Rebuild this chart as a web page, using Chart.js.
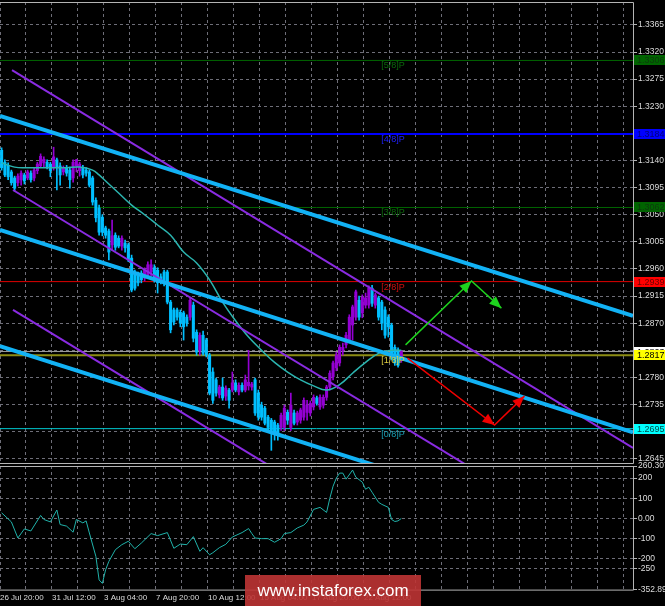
<!DOCTYPE html>
<html>
<head>
<meta charset="utf-8">
<script src="https://cdn.jsdelivr.net/npm/chart.js@4.4.0/dist/chart.umd.min.js"></script>
<style>
  html, body { margin: 0; padding: 0; background: #000; }
  #wrap { position: relative; width: 665px; height: 606px; overflow: hidden; background: #000; }
  #main { position: absolute; left: 0; top: 0; }
  #cci { position: absolute; left: 0; top: 456px; }
  #mark {
    position: absolute; left: 245px; top: 575px; width: 176px; height: 31px;
    background: rgba(190, 52, 52, 0.9); color: #fff; text-align: center;
    font: 17px 'Liberation Sans', Arial, sans-serif; line-height: 31px;
  }
</style>
</head>
<body>
<div id="wrap">
  <canvas id="main" width="665" height="464"></canvas>
  <canvas id="cci" width="665" height="150"></canvas>
  <div id="mark">www.instaforex.com</div>
</div>
<script>
// H4 bars, index 0 = 26 Jul 20:00
const timeLabels = ['26 Jul 20:00', '31 Jul 12:00', '3 Aug 04:00', '7 Aug 20:00',
                    '10 Aug 12:00', '15 Aug 04:00', '17 Aug 20:00', '22 Aug 12:00'];

const openPrices = [
  1.3157, 1.3137, 1.3132, 1.3121, 1.3111, 1.3103, 1.3108, 1.3116, 1.3111, 1.3119,
  1.3111, 1.3123, 1.3131, 1.3136, 1.3137, 1.3134, 1.3128, 1.3141, 1.3131, 1.3121,
  1.3128, 1.3124, 1.3111, 1.3131, 1.3123, 1.3128, 1.3124, 1.3121, 1.3111, 1.3074,
  1.3061, 1.3046, 1.3028, 1.3023, 1.3000, 1.3016, 1.3011, 1.2998, 1.3003, 1.3000,
  1.2978, 1.2953, 1.2950, 1.2953, 1.2945, 1.2948, 1.2955, 1.2962, 1.2958, 1.2947,
  1.2955, 1.2955, 1.2905, 1.2892, 1.2892, 1.2888, 1.2887, 1.2880, 1.2880, 1.2900,
  1.2855, 1.2825, 1.2850, 1.2842, 1.2817, 1.2789, 1.2776, 1.2751, 1.2764, 1.2749,
  1.2759, 1.2759, 1.2771, 1.2756, 1.2767, 1.2759, 1.2766, 1.2764, 1.2776, 1.2754,
  1.2734, 1.2729, 1.2714, 1.2709, 1.2706, 1.2701, 1.2697, 1.2697, 1.2722, 1.2697,
  1.2721, 1.2706, 1.2709, 1.2714, 1.2722, 1.2721, 1.2731, 1.2746, 1.2731, 1.2734,
  1.2747, 1.2764, 1.2781, 1.2796, 1.2804, 1.2825, 1.2834, 1.2842, 1.2867, 1.2880,
  1.2908, 1.2887, 1.2900, 1.2900, 1.2928, 1.2900, 1.2912, 1.2905, 1.2892, 1.2880,
  1.2867, 1.2830, 1.2825, 1.2809
];
const highPrices = [
  1.3161, 1.3141, 1.3136, 1.3124, 1.3114, 1.3118, 1.3123, 1.3119, 1.3124, 1.3123,
  1.3128, 1.3137, 1.3151, 1.3146, 1.3141, 1.3137, 1.3162, 1.3144, 1.3136, 1.3131,
  1.3132, 1.3129, 1.3141, 1.3142, 1.3137, 1.3132, 1.3128, 1.3124, 1.3114, 1.3078,
  1.3066, 1.3050, 1.3031, 1.3026, 1.3041, 1.3020, 1.3015, 1.3015, 1.3008, 1.3003,
  1.2983, 1.2958, 1.2955, 1.2957, 1.2962, 1.2972, 1.2975, 1.2967, 1.2962, 1.2952,
  1.2958, 1.2958, 1.2908, 1.2895, 1.2895, 1.2892, 1.2890, 1.2884, 1.2912, 1.2905,
  1.2859, 1.2854, 1.2857, 1.2845, 1.2820, 1.2796, 1.2779, 1.2767, 1.2779, 1.2766,
  1.2762, 1.2789, 1.2776, 1.2771, 1.2771, 1.2784, 1.2825, 1.2772, 1.2779, 1.2759,
  1.2739, 1.2732, 1.2717, 1.2712, 1.2709, 1.2704, 1.2721, 1.2734, 1.2726, 1.2754,
  1.2726, 1.2724, 1.2729, 1.2746, 1.2742, 1.2741, 1.2751, 1.2749, 1.2751, 1.2751,
  1.2767, 1.2791, 1.2807, 1.2822, 1.2834, 1.2837, 1.2855, 1.2884, 1.2900, 1.2925,
  1.2915, 1.2917, 1.2920, 1.2932, 1.2933, 1.2920, 1.2915, 1.2908, 1.2897, 1.2884,
  1.2870, 1.2834, 1.2829, 1.2825
];
const lowPrices = [
  1.3124, 1.3113, 1.3108, 1.3099, 1.3089, 1.3098, 1.3099, 1.3101, 1.3108, 1.3104,
  1.3106, 1.3118, 1.3128, 1.3129, 1.3126, 1.3113, 1.3124, 1.3091, 1.3099, 1.3116,
  1.3114, 1.3094, 1.3104, 1.3121, 1.3114, 1.3111, 1.3114, 1.3096, 1.3066, 1.3038,
  1.3016, 1.3015, 1.3011, 1.2975, 1.2991, 1.2991, 1.2995, 1.2991, 1.2988, 1.2972,
  1.2922, 1.2925, 1.2932, 1.2937, 1.2940, 1.2945, 1.2948, 1.2938, 1.2920, 1.2935,
  1.2932, 1.2902, 1.2854, 1.2867, 1.2875, 1.2864, 1.2842, 1.2865, 1.2875, 1.2839,
  1.2817, 1.2817, 1.2817, 1.2814, 1.2751, 1.2737, 1.2749, 1.2746, 1.2742, 1.2742,
  1.2729, 1.2756, 1.2756, 1.2751, 1.2756, 1.2756, 1.2759, 1.2759, 1.2717, 1.2709,
  1.2709, 1.2701, 1.2692, 1.2659, 1.2676, 1.2676, 1.2692, 1.2692, 1.2702, 1.2692,
  1.2701, 1.2701, 1.2704, 1.2709, 1.2709, 1.2716, 1.2726, 1.2734, 1.2727, 1.2729,
  1.2742, 1.2759, 1.2776, 1.2791, 1.2799, 1.2817, 1.2829, 1.2839, 1.2842, 1.2875,
  1.2875, 1.2879, 1.2895, 1.2895, 1.2898, 1.2895, 1.2875, 1.2859, 1.2845, 1.2847,
  1.2809, 1.2800, 1.2797, 1.2805
];
const closePrices = [
  1.3128, 1.3116, 1.3113, 1.3103, 1.3094, 1.3114, 1.3119, 1.3106, 1.3121, 1.3108,
  1.3124, 1.3134, 1.3147, 1.3142, 1.3129, 1.3123, 1.3146, 1.3128, 1.3116, 1.3128,
  1.3119, 1.3108, 1.3137, 1.3141, 1.3134, 1.3116, 1.3119, 1.3099, 1.3071, 1.3045,
  1.3021, 1.3021, 1.3016, 1.2988, 1.3015, 1.2996, 1.2998, 1.3011, 1.2995, 1.2975,
  1.2925, 1.2928, 1.2937, 1.2942, 1.2958, 1.2967, 1.2967, 1.2942, 1.2937, 1.2938,
  1.2937, 1.2905, 1.2859, 1.2872, 1.2880, 1.2870, 1.2864, 1.2870, 1.2908, 1.2845,
  1.2822, 1.2850, 1.2820, 1.2817, 1.2754, 1.2742, 1.2754, 1.2764, 1.2746, 1.2762,
  1.2742, 1.2771, 1.2759, 1.2767, 1.2759, 1.2776, 1.2772, 1.2769, 1.2721, 1.2714,
  1.2714, 1.2704, 1.2697, 1.2692, 1.2689, 1.2687, 1.2717, 1.2729, 1.2709, 1.2734,
  1.2704, 1.2721, 1.2726, 1.2742, 1.2734, 1.2737, 1.2747, 1.2737, 1.2747, 1.2747,
  1.2764, 1.2787, 1.2804, 1.2817, 1.2830, 1.2830, 1.2850, 1.2880, 1.2897, 1.2922,
  1.2880, 1.2913, 1.2912, 1.2928, 1.2903, 1.2917, 1.2880, 1.2870, 1.2850, 1.2864,
  1.2814, 1.2804, 1.2800, 1.2823
];

// moving average, read every few bars
const maBars   = [0, 4, 8, 12, 16, 20, 24, 28, 30, 32, 36, 40, 44, 48, 52, 56, 60,
                  64, 68, 72, 76, 80, 84, 88, 92, 96, 100, 104, 108, 112, 116, 120, 123];
const maValues = [1.3136, 1.3129, 1.3128, 1.3128, 1.3128, 1.3128, 1.3129, 1.3124, 1.3116,
                  1.3106, 1.3086, 1.3066, 1.3050, 1.3033, 1.3016, 1.2988, 1.2970, 1.2942,
                  1.2905, 1.2874, 1.2847, 1.2825, 1.2805, 1.2789, 1.2776, 1.2766, 1.2759,
                  1.2768, 1.2787, 1.2805, 1.2820, 1.2825, 1.2825];

// CCI sub-window
const cciBars = [0, 3, 5, 7, 9, 12, 13, 15, 17, 18, 20, 22, 23, 25, 26, 27, 29, 30, 31, 32,
                 33, 35, 37, 39, 41, 43, 46, 48, 51, 53, 55, 57, 59, 61, 62, 64, 65, 67, 69, 71,
                 74, 76, 77, 78, 80, 82, 84, 86, 87, 89, 91, 93, 94, 96, 98, 100, 101, 102, 103, 104,
                 105, 106, 108, 109, 111, 112, 113, 114, 116, 117, 119, 120, 121, 122, 123];
const cciValues = [28, -17, -97, -52, -62, 15, -5, -17, 42, -30, -38, -68, -5, -22, -12, -72, -188, -305, -322, -255,
                   -213, -155, -130, -113, -150, -122, -75, -85, -70, -148, -127, -130, -90, -163, -145, -180, -170, -145, -128, -92,
                   -70, -50, -75, -97, -100, -100, -118, -100, -75, -70, -47, -33, -17, 45, 55, 30, 100, 160, 200, 225,
                   225, 195, 240, 205, 180, 145, 155, 130, 80, 70, 55, -5, -15, -12, 0];

const priceRange = [1.2638, 1.3403];
const priceTicks = [1.2645, 1.2690, 1.2735, 1.2780, 1.2825, 1.2870, 1.2915, 1.2960, 1.3005,
                    1.3050, 1.3095, 1.3140, 1.3185, 1.3230, 1.3275, 1.3320, 1.3365];
const cciTicks = [-352.89, -250, -200, -100, 0, 100, 200, 260.3071];
const cciTickText = ['-352.890', '-250', '-200', '-100', '0.00', '100', '200', '260.3071'];

const murreyLevels = [1.3306, 1.3184, 1.3062, 1.2939, 1.2817, 1.2695];
const murreyNames = ['[5/8]P', '[4/8]P', '[3/8]P', '[2/8]P', '[1/8]P', '[0/8]P'];
const bidPrice = 1.2823;

// channel lines: [startBar, startPrice, endBar, endPrice]
const blueLines = [[-0.5, 1.3214, 194.3, 1.2882], [-0.5, 1.3025, 194.3, 1.2689], [-0.5, 1.2832, 194.3, 1.2498]];
const purpleLines = [[3.2, 1.3290, 194.3, 1.2663], [3.5, 1.3091, 194.3, 1.2467], [3.5, 1.2892, 194.3, 1.2267]];

// forecast arrows
const upArrowBars = [124.3, 144.6, 153.8];
const upArrowPrices = [1.2834, 1.2940, 1.2895];
const downArrowBars = [124.9, 151.7, 160.9];
const downArrowPrices = [1.2812, 1.2701, 1.2749];

// styles
const barMin = -0.5, barMax = 194.3, murreyLabelBar = 116.8;
const gridColor = '#6e6e78';
const axisText = '#dcdcdc';
const frameColor = '#b4b4b4';
const candleUp = '#9400d3';
const candleDown = '#00bfff';
const levelColors = ['#006400', '#0000ff', '#006400', '#e00000', '#8c8c14', '#00c8d0'];
const levelWidths = [1, 2, 1, 1, 2, 1];
const tagColors = ['#0b6b0b', '#2020ff', '#0b6b0b', '#d01010', '#e0d040', '#18a0b4'];
const boxFill = ['#006400', '#0000ff', '#006400', '#ff0000', '#ffff00', '#00ffff'];
const boxText = ['#0c3a0c', '#00007a', '#0c3a0c', '#6a0000', '#000000', '#004a4a'];
const axisFont = "'Liberation Sans Narrow', 'Liberation Sans', Arial, sans-serif";

const gridBars = [];
for (let b = barMin; b <= barMax; b += 8) gridBars.push(b);

function segment(points, color, width, order) {
    return { type: 'line', data: points, borderColor: color, borderWidth: width,
             pointRadius: 0, tension: 0, order: order };
}

function arrow(bars, prices, color) {
    const ds = segment(bars.map((b, k) => ({ x: b, y: prices[k] })), color, 1.5, 0);
    ds.arrow = true;
    return ds;
}

const candleColor = ctx => closePrices[ctx.dataIndex] >= openPrices[ctx.dataIndex] ? candleUp : candleDown;

const frame = {
    id: 'frame',
    afterDraw(chart) {
        const { ctx, chartArea: a } = chart;
        ctx.save();
        ctx.strokeStyle = frameColor;
        ctx.lineWidth = 1;
        ctx.beginPath();
        ctx.moveTo(a.left, a.top + 0.5); ctx.lineTo(a.right + 0.5, a.top + 0.5);
        ctx.lineTo(a.right + 0.5, a.bottom + 0.5); ctx.lineTo(a.left, a.bottom + 0.5);
        ctx.stroke();
        ctx.restore();
    }
};

const arrowHeads = {
    id: 'arrowHeads',
    afterDatasetsDraw(chart) {
        const ctx = chart.ctx;
        chart.data.datasets.forEach((ds, k) => {
            if (!ds.arrow) return;
            const pts = chart.getDatasetMeta(k).data;
            for (let j = 1; j < pts.length; j++) {
                const a = pts[j - 1], b = pts[j];
                ctx.save();
                ctx.translate(b.x, b.y);
                ctx.rotate(Math.atan2(b.y - a.y, b.x - a.x));
                ctx.beginPath();
                ctx.moveTo(0, 0); ctx.lineTo(-12, -5); ctx.lineTo(-12, 5);
                ctx.closePath();
                ctx.fillStyle = ds.borderColor;
                ctx.fill();
                ctx.restore();
            }
        });
    }
};

const levelTags = {
    id: 'levelTags',
    afterDraw(chart) {
        const { ctx, chartArea, scales: { x, y } } = chart;
        ctx.save();
        ctx.font = "9px 'Liberation Sans', Arial, sans-serif";
        ctx.textBaseline = 'top';
        murreyLevels.forEach((p, k) => {
            ctx.fillStyle = tagColors[k];
            ctx.fillText(murreyNames[k], x.getPixelForValue(murreyLabelBar), y.getPixelForValue(p) + 1);
        });
        // price boxes on the axis
        ctx.font = '9px ' + axisFont;
        ctx.textBaseline = 'middle';
        const boxes = [[bidPrice, '#ffffff', '#000000']]
            .concat(murreyLevels.map((p, k) => [p, boxFill[k], boxText[k]]));
        boxes.forEach(([p, fill, text]) => {
            const py = Math.round(y.getPixelForValue(p));
            ctx.fillStyle = fill;
            ctx.fillRect(chartArea.right + 1, py - 5, 31, 10);
            ctx.fillStyle = text;
            ctx.fillText(p.toFixed(4), chartArea.right + 4, py + 0.5);
        });
        ctx.restore();
    }
};

function xScale(showLabels) {
    return {
        type: 'linear', min: barMin, max: barMax, offset: false,
        afterBuildTicks: s => { s.ticks = gridBars.map(v => ({ value: v })); },
        afterFit: s => { s.height = showLabels ? 16.4 : 0; s.paddingLeft = 0; s.paddingRight = 0; },
        ticks: {
            display: showLabels, autoSkip: false, maxRotation: 0, align: 'start', padding: 3,
            color: axisText, font: { family: axisFont, size: 8 },
            callback: (v, k) => (k % 2 === 0 && timeLabels[k / 2]) ? timeLabels[k / 2] : ''
        },
        grid: { color: gridColor, drawTicks: false, offset: false },
        border: { display: false, dash: [3, 3] }
    };
}

function yScale(range, ticks, texts, hideEdges) {
    return {
        position: 'right', min: range[0], max: range[1],
        afterBuildTicks: s => { s.ticks = ticks.map(v => ({ value: v })); },
        afterFit: s => { s.width = 32; s.paddingTop = 0; s.paddingBottom = 0; },
        ticks: { color: axisText, padding: 1, font: { family: axisFont, size: 8.5 },
                 callback: (v, k) => texts[k] },
        grid: {
            color: c => (hideEdges && (c.index === 0 || c.index === ticks.length - 1)) ? 'rgba(0,0,0,0)' : gridColor,
            tickColor: frameColor, tickLength: 4, tickBorderDash: []
        },
        border: { display: false, dash: [3, 3] }
    };
}

const bars = openPrices.map((o, i) => i);
const datasets = [
    { type: 'bar', data: bars.map(i => ({ x: i, y: [lowPrices[i], highPrices[i]] })),
      backgroundColor: candleColor, barThickness: 1, grouped: false, borderWidth: 0, order: 5 },
    { type: 'bar', data: bars.map(i => ({ x: i, y: [openPrices[i], closePrices[i]] })),
      backgroundColor: candleColor, barThickness: 2.4, grouped: false, borderWidth: 0, minBarLength: 1, order: 4 },
    segment(maBars.map((b, k) => ({ x: b, y: maValues[k] })), '#2bb5b0', 1.5, 3),
    segment([{ x: barMin, y: bidPrice }, { x: barMax, y: bidPrice }], '#9a9a9a', 1, 6)
];
datasets[2].tension = 0.4;
murreyLevels.forEach((p, k) => {
    datasets.push(segment([{ x: barMin, y: p }, { x: barMax, y: p }], levelColors[k], levelWidths[k], 6));
});
purpleLines.forEach(l => datasets.push(segment([{ x: l[0], y: l[1] }, { x: l[2], y: l[3] }], '#8a2be2', 2, 2)));
blueLines.forEach(l => datasets.push(segment([{ x: l[0], y: l[1] }, { x: l[2], y: l[3] }], '#12b2f5', 4, 1)));
datasets.push(arrow(upArrowBars, upArrowPrices, '#1ed21e'));
datasets.push(arrow(downArrowBars, downArrowPrices, '#f00000'));

const mainChart = new Chart(document.getElementById('main'), {
    type: 'bar',
    data: { datasets: datasets },
    options: {
        responsive: false,
        animation: false,
        layout: { padding: { top: 2, bottom: 1, left: 0, right: 0 } },
        plugins: { legend: { display: false }, tooltip: { enabled: false } },
        scales: {
            x: xScale(false),
            y: yScale(priceRange, priceTicks, priceTicks.map(v => v.toFixed(4)), false)
        }
    },
    plugins: [frame, arrowHeads, levelTags]
});

const cciChart = new Chart(document.getElementById('cci'), {
    type: 'line',
    data: {
        datasets: [{
            data: cciBars.map((b, k) => ({ x: b, y: cciValues[k] })),
            borderColor: '#20b2aa', borderWidth: 1, pointRadius: 0, tension: 0
        }]
    },
    options: {
        responsive: false,
        animation: false,
        layout: { padding: { top: 10, bottom: 0, left: 0, right: 0 } },
        plugins: { legend: { display: false }, tooltip: { enabled: false } },
        scales: {
            x: xScale(true),
            y: yScale([cciTicks[0], cciTicks[cciTicks.length - 1]], cciTicks, cciTickText, true)
        }
    },
    plugins: [frame]
});
</script>
</body>
</html>
